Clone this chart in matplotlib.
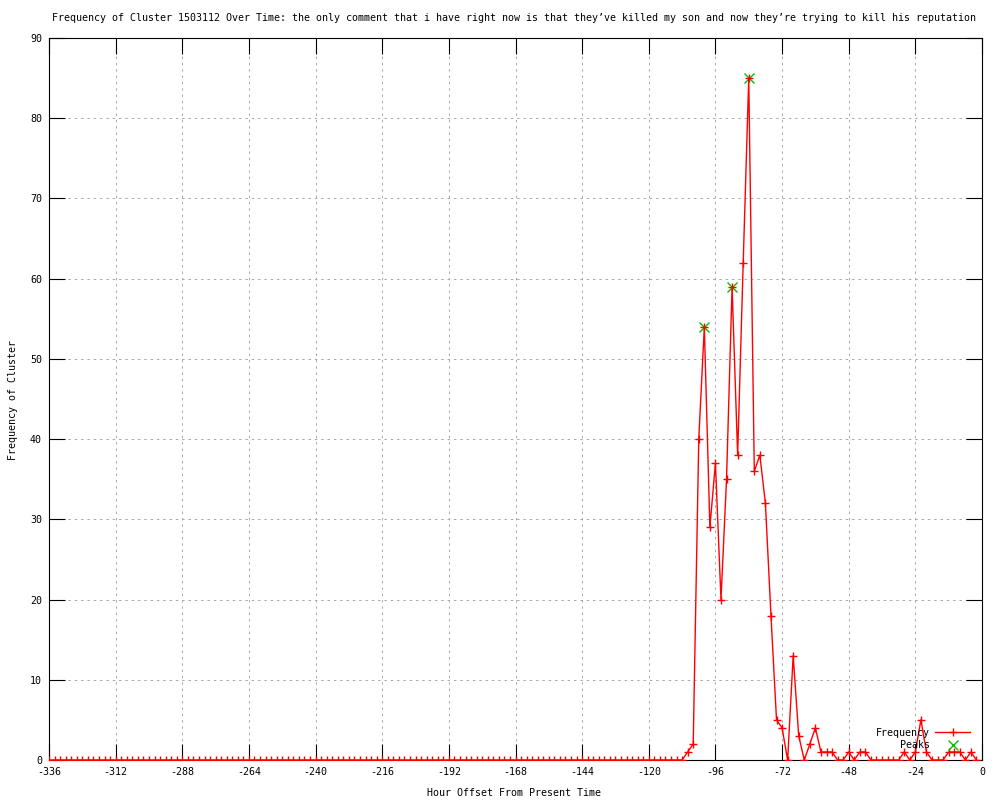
import matplotlib
matplotlib.use("Agg")
import matplotlib.pyplot as plt

# Hour offsets (every 2 hours) and frequencies
hours = list(range(-336, 0, 2))
freq = [
    0, 0, 0, 0, 0, 0, 0, 0, 0, 0, 0, 0, 0, 0, 0, 0, 0, 0, 0, 0,
    0, 0, 0, 0, 0, 0, 0, 0, 0, 0, 0, 0, 0, 0, 0, 0, 0, 0, 0, 0,
    0, 0, 0, 0, 0, 0, 0, 0, 0, 0, 0, 0, 0, 0, 0, 0, 0, 0, 0, 0,
    0, 0, 0, 0, 0, 0, 0, 0, 0, 0, 0, 0, 0, 0, 0, 0, 0, 0, 0, 0,
    0, 0, 0, 0, 0, 0, 0, 0, 0, 0, 0, 0, 0, 0, 0, 0, 0, 0, 0, 0,
    0, 0, 0, 0, 0, 0, 0, 0, 0, 0, 0,
    # -114 .. -2
    0, 0, 0, 0, 1, 2, 40, 54, 29, 37, 20, 35, 59, 38, 62, 85, 36, 38, 32, 18,
    5, 4, 0, 13, 3, 0, 2, 4, 1, 1, 1, 0, 0, 1, 0, 1, 1, 0, 0, 0,
    0, 0, 0, 1, 0, 1, 5, 1, 0, 0, 0, 1, 1, 1, 0, 1, 0,
]
peak_hours = [-100, -90, -84]
peak_vals = [54, 59, 85]

xticks = list(range(-336, 1, 24))
yticks = list(range(0, 91, 10))

title = ("Frequency of Cluster 1503112 Over Time: the only comment that i have right now "
         "is that they\u2019ve killed my son and now they\u2019re trying to kill his reputation")

FONT = "DejaVu Sans Mono"
FS = 7.2

fig = plt.figure(figsize=(10, 8), dpi=100)
ax = fig.add_axes([0.049, 0.05, 0.933, 0.9025])

ax.plot(hours, freq, color="#ff0000", lw=1.0, marker="+", ms=6, mew=1.0,
        label="Frequency", zorder=4)
ax.plot(peak_hours, peak_vals, linestyle="none", color="#00c000", marker="x",
        ms=6.5, mew=1.0, label="Peaks", zorder=3)

ax.set_xlim(-336, 0)
ax.set_ylim(0, 90)
ax.set_xticks(xticks)
ax.set_yticks(yticks)
ax.set_xticklabels([str(t) for t in xticks], fontfamily=FONT, fontsize=FS)
ax.set_yticklabels([str(t) for t in yticks], fontfamily=FONT, fontsize=FS)

ax.tick_params(direction="in", length=11.5, width=0.8, top=True, right=True,
               pad=5, colors="black")
ax.grid(True, color="#a8a8a8", lw=0.7, linestyle=(0, (2.5, 4)))
ax.set_axisbelow(True)
for s in ax.spines.values():
    s.set_linewidth(0.8)
    s.set_color("black")

fig.text(0.514, 0.977, title, ha="center", va="center", fontfamily=FONT, fontsize=FS)
fig.text(0.514, 0.009, "Hour Offset From Present Time", ha="center", va="center",
         fontfamily=FONT, fontsize=FS)
fig.text(0.013, 0.5, "Frequency of Cluster", ha="center", va="center", rotation=90,
         fontfamily=FONT, fontsize=FS)

leg = ax.legend(loc="lower right", bbox_to_anchor=(0.975, 0.056),
                bbox_transform=fig.transFigure, frameon=False, markerfirst=False,
                prop={"family": FONT, "size": FS}, handlelength=3.5,
                labelspacing=0.25, borderpad=0, handletextpad=0.5)

fig.savefig("out.png", dpi=100)
